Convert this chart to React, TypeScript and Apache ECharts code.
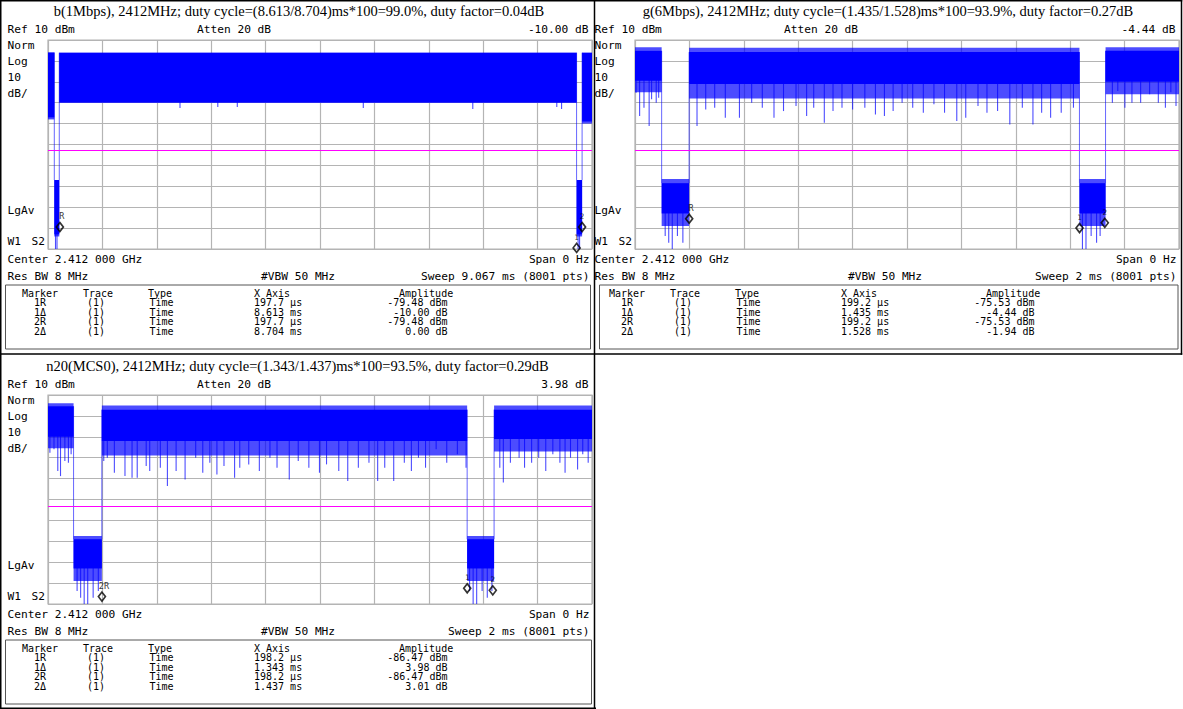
import React, { useEffect, useRef } from "react";
import * as echarts from "echarts";

// ---- common screen scale (Ref 10 dBm, 10 dB/div) ----
const yTopDbm = 10;
const yBottomDbm = -90;
const yStepDb = 10;
const displayLineDbm = [-42.8, -42.8, -43.0];

// ---- panel 1 : b(1Mbps) ----
const bTitle = "b(1Mbps), 2412MHz; duty cycle=(8.613/8.704)ms*100=99.0%, duty factor=0.04dB";
const bSweepMs = 9.067;
const bSweepText = "Sweep 9.067 ms (8001 pts)";
// [t start ms, t end ms, solid top dBm, solid bottom dBm, noisy top dBm, noisy bottom dBm]
const bBodies = [
  [0, 0.105, 4.0, -27.0, 4.0, -28.0],
  [0.105, 0.188, -57.0, -83.0, -57.0, -84.0],
  [0.188, 8.81, 3.9, -19.8, 3.9, -20.2],
  [8.81, 8.902, -57.0, -83.0, -57.0, -84.0],
  [8.902, 9.067, 3.9, -29.0, 3.9, -30.0],
];
// [t ms, dip dBm]
const bSpikes = [
  [2.2, -22.5], [2.83, -22], [3.155, -22], [5.255, -22.5], [7.08, -23], [8.48, -22], [8.56, -23],
  [0.125, -90], [0.15, -90], [8.835, -90], [8.86, -90],
];
const bRefUs = 197.7;
const bRefDbm = -79.48;
const bDeltaMs = [8.613, 8.704];
const bDeltaDb = [-10.0, 0.0];
const bRefLabel = "R";

// ---- panel 2 : g(6Mbps) ----
const gTitle = "g(6Mbps), 2412MHz; duty cycle=(1.435/1.528)ms*100=93.9%, duty factor=0.27dB";
const gSweepMs = 2;
const gSweepText = "Sweep 2 ms (8001 pts)";
const gBodies = [
  [0, 0.098, 4.8, -9.5, 6.5, -15.0],
  [0.098, 0.199, -58.5, -73.0, -56.5, -79.0],
  [0.199, 1.634, 4.2, -11.0, 6.3, -18.0],
  [1.634, 1.73, -58.5, -73.0, -56.5, -79.0],
  [1.73, 2, 4.8, -10.0, 6.5, -16.0],
];
const gSpikes = [
  [0.004, -15.2], [0.017, -26.4], [0.033, -22.4], [0.052, -31.1], [0.061, -18.4], [0.078, -20], [0.087, -17.6],
  [0.228, -31.1], [0.26, -23.2], [0.293, -22.4], [0.332, -27.2], [0.384, -27.2], [0.429, -20], [0.468, -22.4],
  [0.511, -27.2], [0.546, -24], [0.592, -21.6], [0.631, -26.4], [0.657, -22.4], [0.696, -29.6], [0.728, -24],
  [0.761, -22.4], [0.8, -23.2], [0.845, -22.4], [0.884, -25.6], [0.917, -26.4], [0.949, -24], [0.982, -20],
  [1.021, -22.4], [1.06, -24.8], [1.099, -20.8], [1.138, -24.8], [1.183, -28.8], [1.216, -27.2], [1.261, -21.6],
  [1.294, -24.8], [1.333, -24], [1.378, -30.4], [1.424, -22.4], [1.463, -30.4], [1.495, -24.8], [1.528, -27.2],
  [1.567, -24.8], [1.612, -22.4],
  [1.755, -20], [1.775, -14.4], [1.801, -22.4], [1.827, -20], [1.859, -20], [1.892, -16], [1.924, -20],
  [1.95, -22.4], [1.97, -15], [1.989, -21.6],
  [0.111, -83.8], [0.124, -87], [0.137, -90], [0.156, -83.8], [0.176, -87],
  [1.645, -90], [1.658, -90], [1.677, -83.8], [1.697, -87], [1.71, -83.8],
];
const gRefUs = 199.2;
const gRefDbm = -75.53;
const gDeltaMs = [1.435, 1.528];
const gDeltaDb = [-4.44, -1.94];
const gRefLabel = "R";

// ---- panel 3 : n20(MCS0) ----
const nTitle = "n20(MCS0), 2412MHz; duty cycle=(1.343/1.437)ms*100=93.5%, duty factor=0.29dB";
const nSweepMs = 2;
const nSweepText = "Sweep 2 ms (8001 pts)";
const nBodies = [
  [0, 0.094, 4.6, -10.0, 6.0, -15.5],
  [0.094, 0.198, -59.0, -73.0, -57.5, -79.0],
  [0.198, 1.541, 3.0, -12.0, 5.0, -19.0],
  [1.541, 1.64, -59.0, -73.0, -57.5, -79.0],
  [1.64, 2, 3.0, -11.0, 5.0, -17.0],
];
const nSpikes = [
  [0.007, -17.6], [0.022, -16], [0.036, -26.4], [0.046, -28.8], [0.062, -21.6], [0.075, -22.4], [0.085, -18.4],
  [0.205, -21.6], [0.218, -20], [0.244, -27.2], [0.283, -28.8], [0.309, -29.6], [0.328, -29.6], [0.361, -24],
  [0.374, -26.4], [0.413, -24.8], [0.439, -33.5], [0.471, -26.4], [0.504, -30.4], [0.543, -20], [0.569, -27.2],
  [0.595, -22.4], [0.621, -28], [0.647, -24], [0.686, -29.6], [0.705, -24.8], [0.738, -23.2], [0.777, -26.4],
  [0.816, -20], [0.842, -24.8], [0.887, -30.4], [0.92, -21.6], [0.959, -24.8], [0.998, -27.2], [1.024, -23.2],
  [1.069, -26.4], [1.102, -31.1], [1.141, -24.8], [1.18, -22.4], [1.212, -31.1], [1.238, -24.8], [1.271, -31.1],
  [1.31, -22.4], [1.336, -26.4], [1.362, -20], [1.388, -24.8], [1.427, -16], [1.466, -22.4], [1.505, -18.4],
  [1.537, -24.8],
  [1.661, -24.8], [1.674, -31.9], [1.7, -22.4], [1.732, -20], [1.752, -24.8], [1.778, -22.4], [1.804, -20],
  [1.83, -26.4], [1.856, -18.4], [1.882, -22.4], [1.901, -27.2], [1.921, -20], [1.947, -25.6], [1.966, -18.4],
  [1.986, -22.4],
  [0.107, -83.8], [0.12, -87], [0.133, -90], [0.146, -90], [0.166, -87], [0.185, -83.8],
  [1.55, -83.8], [1.563, -90], [1.576, -90], [1.596, -83.8], [1.615, -87], [1.632, -83.8],
];
const nRefUs = 198.2;
const nRefDbm = -86.47;
const nDeltaMs = [1.343, 1.437];
const nDeltaDb = [3.98, 3.01];
const nRefLabel = "2R";

// ---- shared screen texts ----
const leftLabels = ["Norm", "Log", "10", "dB/"];
const tableHeader = ["Marker", "Trace", "Type", "X Axis", "Amplitude"];
const markerNames = ["1R", "1Δ", "2R", "2Δ"];

const MONO = '"DejaVu Sans Mono", monospace';
const SERIF = '"Liberation Serif", "Times New Roman", serif';
const GRID_COLOR = "#b4b4b4";

const fmtDb = (v: number) => v.toFixed(2) + " dB";

function buildPanel(idx: number, p: any) {
  const { ox, oy, titleX, title, sweep, sweepText, bodies, spikes, refUs, refDbm, dMs, dDb, refLabel } = p;
  const refMs = refUs / 1000;
  const findBody = (t: number) => bodies.find((b: number[]) => t >= b[0] && t <= b[1]) || bodies[0];
  const spikeData = spikes.map((s: number[]) => [s[0], findBody(s[0])[3] + 0.5, s[1]]);
  const edgeData: number[][] = [];
  for (let i = 0; i < bodies.length - 1; i++) {
    const a = bodies[i], b = bodies[i + 1];
    edgeData.push([a[1], Math.max(a[2], b[2]), Math.min(a[2], b[2])]);
  }
  const grid = { left: ox + 48, top: oy + 40, width: 544, height: 209, show: true, borderColor: GRID_COLOR, borderWidth: 1.2 };
  const axisCommon = {
    axisLabel: { show: false }, axisTick: { show: false }, axisLine: { show: false },
    splitLine: { show: true, lineStyle: { color: GRID_COLOR, width: 1.2 } },
  };
  const xAxis = { type: "value", gridIndex: idx, min: 0, max: sweep, interval: sweep / 10, ...axisCommon };
  const yAxis = { type: "value", gridIndex: idx, min: yBottomDbm, max: yTopDbm, interval: yStepDb, ...axisCommon };
  const lineItem = (api: any, style: any) => {
    const p0 = api.coord([api.value(0), api.value(1)]);
    const p1 = api.coord([api.value(0), api.value(2)]);
    return { type: "line", shape: { x1: p0[0], y1: p0[1], x2: p1[0], y2: p1[1] }, style };
  };
  const series: any[] = [
    {
      type: "custom", xAxisIndex: idx, yAxisIndex: idx, clip: true, silent: true, z: 3,
      data: bodies,
      renderItem: (_: any, api: any) => {
        const s0 = api.coord([api.value(0), api.value(2)]);
        const s1 = api.coord([api.value(1), api.value(3)]);
        const f0 = api.coord([api.value(0), api.value(4)]);
        const f1 = api.coord([api.value(1), api.value(5)]);
        return {
          type: "group",
          children: [
            { type: "rect", shape: { x: f0[0], y: f0[1], width: f1[0] - f0[0], height: f1[1] - f0[1] }, style: { fill: "rgba(0,0,255,0.7)" } },
            { type: "rect", shape: { x: s0[0], y: s0[1], width: s1[0] - s0[0], height: s1[1] - s0[1] }, style: { fill: "#0000ff" } },
          ],
        };
      },
    },
    {
      type: "custom", xAxisIndex: idx, yAxisIndex: idx, clip: true, silent: true, z: 2,
      data: spikeData,
      renderItem: (_: any, api: any) => lineItem(api, { stroke: "rgba(0,0,255,0.7)", lineWidth: 1.1 }),
    },
    {
      type: "custom", xAxisIndex: idx, yAxisIndex: idx, clip: true, silent: true, z: 2,
      data: edgeData,
      renderItem: (_: any, api: any) => lineItem(api, { stroke: "rgba(0,0,255,0.6)", lineWidth: 1 }),
    },
    {
      type: "scatter", xAxisIndex: idx, yAxisIndex: idx, symbol: "diamond", symbolSize: [7, 9], z: 10, silent: true,
      itemStyle: { color: "rgba(0,0,0,0)", borderColor: "#000", borderWidth: 1.7 },
      label: { show: true, position: "top", distance: 1, fontSize: 7.5, fontFamily: MONO, color: "#000", formatter: (q: any) => q.data.name },
      data: [
        { value: [refMs, refDbm], name: refLabel, label: { offset: [2, 0], fontSize: 8.5 } },
        { value: [refMs + dMs[0], refDbm + dDb[0]], name: "1" },
        { value: [refMs + dMs[1], refDbm + dDb[1]], name: "2" },
      ],
      markLine: {
        silent: true, symbol: ["none", "none"], label: { show: false },
        lineStyle: { color: "#ff00ff", width: 1, type: "solid" },
        data: [{ yAxis: displayLineDbm[idx] }],
      },
    },
  ];

  const t = (text: string, x: number, y: number, align = "left", font = `11.2px ${MONO}`) => ({
    type: "text", x: ox + x, y: oy + y, silent: true,
    style: { text, fill: "#000", font, textAlign: align, textVerticalAlign: "middle" },
  });
  const g: any[] = [];
  g.push({ type: "text", x: titleX, y: oy + 11, silent: true, style: { text: title, fill: "#000", font: `14.5px ${SERIF}`, textAlign: "center", textVerticalAlign: "middle" } });
  g.push(t("Ref 10 dBm", 7.5, 29.5));
  g.push(t("Atten 20 dB", 197, 29.5));
  g.push(t(fmtDb(dDb[0]), 588.5, 29.5, "right"));
  leftLabels.forEach((s, i) => g.push(t(s, 7.5, 45 + i * 16.2)));
  g.push(t("LgAv", 7.5, 210));
  g.push(t("W1", 7.5, 241.5));
  g.push(t("S2", 31.5, 241.5));
  g.push(t("Center 2.412 000 GHz", 7.5, 259));
  g.push(t("Span 0 Hz", 589.5, 259, "right"));
  g.push(t("Res BW 8 MHz", 7.5, 276));
  g.push(t("#VBW 50 MHz", 261, 276));
  g.push(t(sweepText, 589.5, 276, "right"));
  // marker table
  const tf = `10px ${MONO}`;
  const hx = [22, 83, 148, 254, 399];
  tableHeader.forEach((s, i) => g.push(t(s, hx[i], 293.5, "left", tf)));
  const rows = [
    [markerNames[0], refUs.toFixed(1) + " µs", refDbm.toFixed(2) + " dBm"],
    [markerNames[1], dMs[0].toFixed(3) + " ms", fmtDb(dDb[0])],
    [markerNames[2], refUs.toFixed(1) + " µs", refDbm.toFixed(2) + " dBm"],
    [markerNames[3], dMs[1].toFixed(3) + " ms", fmtDb(dDb[1])],
  ];
  rows.forEach((r, i) => {
    const y = 302.8 + i * 9.4;
    g.push(t(r[0], 40, y, "center", tf));
    g.push(t("(1)", 96, y, "center", tf));
    g.push(t("Time", 149.5, y, "left", tf));
    g.push(t(r[1], 254, y, "left", tf));
    g.push(t(r[2], 447.5, y, "right", tf));
  });
  g.push({ type: "rect", silent: true, shape: { x: p.frameX, y: oy + 285, width: p.frameW, height: 64 }, style: { fill: "none", stroke: "#555", lineWidth: 1 } });
  return { grid, xAxis, yAxis, series, graphic: g };
}

export default function App() {
  const ref = useRef<HTMLDivElement>(null);
  useEffect(() => {
    if (!ref.current) return;
    const chart = echarts.init(ref.current, undefined, { renderer: "svg" });
    const panels = [
      buildPanel(0, { ox: 0, oy: 0, titleX: 299, title: bTitle, sweep: bSweepMs, sweepText: bSweepText, bodies: bBodies, spikes: bSpikes, refUs: bRefUs, refDbm: bRefDbm, dMs: bDeltaMs, dDb: bDeltaDb, refLabel: bRefLabel, frameX: 5.5, frameW: 585 }),
      buildPanel(1, { ox: 587, oy: 0, titleX: 888, title: gTitle, sweep: gSweepMs, sweepText: gSweepText, bodies: gBodies, spikes: gSpikes, refUs: gRefUs, refDbm: gRefDbm, dMs: gDeltaMs, dDb: gDeltaDb, refLabel: gRefLabel, frameX: 599.5, frameW: 578.5 }),
      buildPanel(2, { ox: 0, oy: 355, titleX: 297.5, title: nTitle, sweep: nSweepMs, sweepText: nSweepText, bodies: nBodies, spikes: nSpikes, refUs: nRefUs, refDbm: nRefDbm, dMs: nDeltaMs, dDb: nDeltaDb, refLabel: nRefLabel, frameX: 5.5, frameW: 586 }),
    ];
    const ln = (x1: number, y1: number, x2: number, y2: number) => ({
      type: "line", silent: true, shape: { x1, y1, x2, y2 }, style: { stroke: "#000", lineWidth: 1.5 },
    });
    const borders = [
      ln(0, 0.75, 1182.25, 0.75),
      ln(0, 354, 1182.25, 354),
      ln(0, 708.25, 596, 708.25),
      ln(0.75, 0, 0.75, 709),
      ln(594.5, 0, 594.5, 709),
      ln(1181.5, 0, 1181.5, 354.75),
    ];
    chart.setOption({
      animation: false,
      backgroundColor: "#fff",
      grid: panels.map((p) => p.grid),
      xAxis: panels.map((p) => p.xAxis),
      yAxis: panels.map((p) => p.yAxis),
      series: panels.flatMap((p) => p.series),
      graphic: { elements: [...panels.flatMap((p) => p.graphic), ...borders] },
    });
    return () => chart.dispose();
  }, []);
  return <div ref={ref} style={{ position: "absolute", left: 0, top: 0, width: 1183, height: 709, background: "#fff" }} />;
}
